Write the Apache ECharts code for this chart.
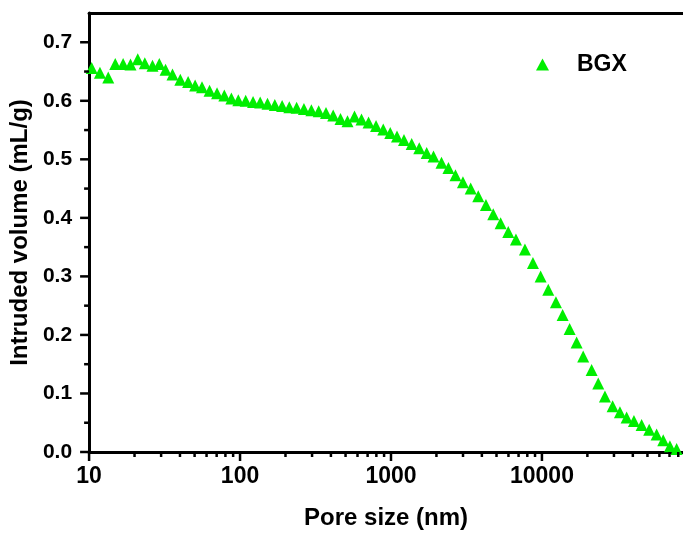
<!DOCTYPE html>
<html>
<head>
<meta charset="utf-8">
<script src="https://cdn.jsdelivr.net/npm/echarts@6/dist/echarts.min.js"></script>
<style>
  html, body { margin: 0; padding: 0; background: #fff; }
  #chart { width: 683px; height: 535px; }
</style>
</head>
<body>
<div id="chart"></div>
<script>
// Mercury intrusion: cumulative intruded volume vs. pore size
const seriesName = 'BGX';

const poreSize = [
  10.4, 11.8, 13.4, 14.9, 16.8, 18.8, 21.0, 23.4, 26.3, 29.2,
  32.1, 35.7, 40.2, 45.3, 50.4, 56.0, 62.8, 70.4, 78.7, 87.6,
  97.4, 109, 122, 136, 152, 170, 190, 212, 237, 265,
  297, 332, 371, 414, 463, 515, 573, 638, 710, 796,
  889, 989, 1096, 1219, 1371, 1539, 1724, 1912, 2160, 2403,
  2674, 2998, 3372, 3786, 4257, 4759, 5327, 5981, 6727, 7718,
  8717, 9804, 11010, 12380, 13710, 15260, 16980, 18770, 21340, 23600,
  26140, 29390, 32870, 36380, 40680, 45740, 51360, 57500, 63600, 70430, 78010
];

const intrudedVolume = [
  0.656, 0.648, 0.640, 0.663, 0.663, 0.662, 0.671, 0.664, 0.660, 0.663,
  0.653, 0.645, 0.636, 0.632, 0.626, 0.623, 0.617, 0.613, 0.609, 0.604,
  0.601, 0.600, 0.598, 0.597, 0.595, 0.593, 0.591, 0.589, 0.588, 0.586,
  0.584, 0.582, 0.579, 0.575, 0.569, 0.565, 0.573, 0.568, 0.563, 0.557,
  0.551, 0.545, 0.539, 0.533, 0.526, 0.519, 0.511, 0.505, 0.494, 0.485,
  0.473, 0.461, 0.450, 0.437, 0.422, 0.406, 0.391, 0.376, 0.363, 0.346,
  0.323, 0.300, 0.277, 0.256, 0.234, 0.210, 0.187, 0.163, 0.140, 0.117,
  0.095, 0.078, 0.068, 0.059, 0.053, 0.046, 0.038, 0.030, 0.020, 0.010, 0.005
];

// Tick positions
const xMajorTicks = [10, 100, 1000, 10000];
const xMinorTicks = [
  20, 30, 40, 50, 60, 70, 80, 90,
  200, 300, 400, 500, 600, 700, 800, 900,
  2000, 3000, 4000, 5000, 6000, 7000, 8000, 9000,
  20000, 30000, 40000, 50000, 60000, 70000, 80000
];
const yMajorTicks = [0, 0.1, 0.2, 0.3, 0.4, 0.5, 0.6, 0.7];
const yMinorTicks = [0.05, 0.15, 0.25, 0.35, 0.45, 0.55, 0.65];

const X_MIN = 10, X_MAX = 86000, Y_MIN = 0, Y_MAX = 0.75;
const FONT = "'Liberation Sans', Arial, Helvetica, sans-serif";

// Short tick strokes drawn through the axis scales (outward from the frame)
function tickSeries(data, dx, dy) {
  return {
    type: 'custom',
    silent: true,
    clip: false,
    z: 5,
    xAxisIndex: 0,
    yAxisIndex: 0,
    data: data,
    renderItem: function (params, api) {
      const p = api.coord([api.value(0), api.value(1)]);
      return {
        type: 'line',
        shape: { x1: p[0], y1: p[1], x2: p[0] + dx, y2: p[1] + dy },
        style: { stroke: '#000', lineWidth: 2.5 }
      };
    }
  };
}

const chart = echarts.init(document.getElementById('chart'), null, { renderer: 'canvas' });

chart.setOption({
  animation: false,
  backgroundColor: '#fff',
  grid: { left: 89, right: 0, top: 13, bottom: 79, containLabel: false },
  legend: {
    data: [{ name: seriesName, icon: 'triangle' }],
    left: 536,
    top: 53,
    padding: 0,
    itemWidth: 13,
    itemHeight: 12,
    textStyle: {
      fontFamily: FONT, fontWeight: 'bold', fontSize: 23, color: '#000',
      padding: [0, 0, 0, 23]
    }
  },
  xAxis: [
    {
      type: 'log',
      logBase: 10,
      min: X_MIN,
      max: X_MAX,
      position: 'bottom',
      name: 'Pore size (nm)',
      nameLocation: 'middle',
      nameGap: 54,
      nameTextStyle: { fontFamily: FONT, fontWeight: 'bold', fontSize: 24, color: '#000' },
      axisLine: { show: true, lineStyle: { color: '#000', width: 3 } },
      axisTick: { show: false },
      splitLine: { show: false },
      axisLabel: {
        margin: 13,
        showMaxLabel: false,
        fontFamily: FONT, fontWeight: 'bold', fontSize: 23, color: '#000',
        formatter: function (v) { return String(Math.round(v)); }
      }
    },
    {
      type: 'log',
      logBase: 10,
      min: X_MIN,
      max: X_MAX,
      position: 'top',
      axisLine: { show: true, lineStyle: { color: '#000', width: 3 } },
      axisTick: { show: false },
      axisLabel: { show: false },
      splitLine: { show: false }
    }
  ],
  yAxis: {
    type: 'value',
    min: Y_MIN,
    max: Y_MAX,
    interval: 0.1,
    name: 'Intruded volume (mL/g)',
    nameLocation: 'middle',
    nameGap: 55,
    nameTextStyle: { fontFamily: FONT, fontWeight: 'bold', fontSize: 24, color: '#000' },
    axisLine: { show: true, lineStyle: { color: '#000', width: 3 } },
    axisTick: { show: false },
    splitLine: { show: false },
    axisLabel: {
      margin: 17,
      showMaxLabel: false,
      fontFamily: FONT, fontWeight: 'bold', fontSize: 21, color: '#000',
      formatter: function (v) { return v.toFixed(1); }
    }
  },
  series: [
    {
      name: seriesName,
      type: 'scatter',
      xAxisIndex: 0,
      yAxisIndex: 0,
      symbol: 'triangle',
      symbolSize: 12,
      itemStyle: { color: '#00ee00', opacity: 1 },
      z: 3,
      data: poreSize.map(function (x, i) { return [x, intrudedVolume[i]]; })
    },
    tickSeries(xMajorTicks.map(function (v) { return [v, Y_MIN]; }), 0, 9),
    tickSeries(xMinorTicks.map(function (v) { return [v, Y_MIN]; }), 0, 5),
    tickSeries(yMajorTicks.map(function (v) { return [X_MIN, v]; }), -9, 0),
    tickSeries(yMinorTicks.map(function (v) { return [X_MIN, v]; }), -5, 0)
  ]
});
</script>
</body>
</html>
